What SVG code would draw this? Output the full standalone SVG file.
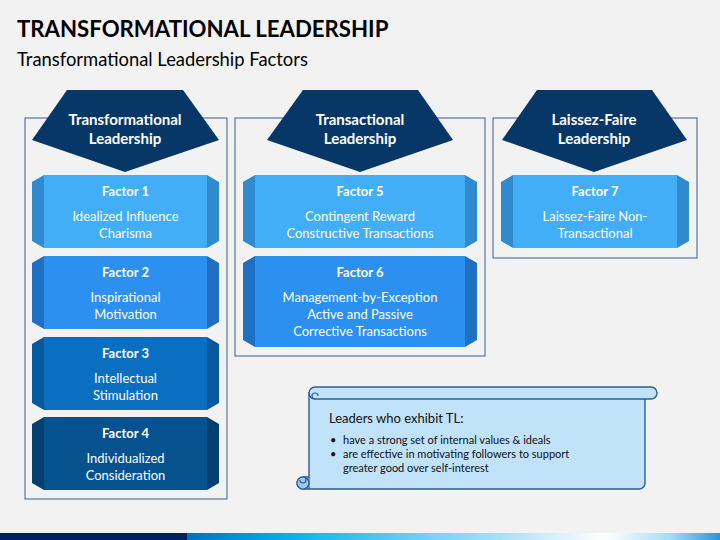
<svg xmlns="http://www.w3.org/2000/svg" width="720" height="540" viewBox="0 0 720 540">
  <defs>
    <linearGradient id="strip" x1="0" y1="0" x2="720" y2="0" gradientUnits="userSpaceOnUse">
      <stop offset="0.26" stop-color="#0070C0"/>
      <stop offset="0.33" stop-color="#0092D6"/>
      <stop offset="0.42" stop-color="#12B4EE"/>
      <stop offset="0.55" stop-color="#5ACBF2"/>
      <stop offset="0.72" stop-color="#B8E4F8"/>
      <stop offset="0.84" stop-color="#FFFFFF"/>
      <stop offset="0.93" stop-color="#A8DCF6"/>
      <stop offset="1" stop-color="#2596DC"/>
    </linearGradient>
    <style>
      .panel { fill: none; stroke: #5A7699; stroke-width: 1.2; }
      .head { fill: #063767; }
      .htxt { font-family: Lato, "Liberation Sans", sans-serif; font-weight: bold; font-size: 15px; fill: #FFFFFF; text-anchor: middle; }
      .ftitle { font-family: Lato, "Liberation Sans", sans-serif; font-weight: bold; font-size: 13px; fill: #FFFFFF; text-anchor: middle; }
      .ftxt { font-family: Lato, "Liberation Sans", sans-serif; font-size: 13px; fill: #FFFFFF; text-anchor: middle; }
      .c1 .face { fill: #42AEF8; } .c1 .side { fill: #2F8BCD; }
      .c2 .face { fill: #2B90F0; } .c2 .side { fill: #1F70C2; }
      .c3 .face { fill: #0A6FC1; } .c3 .side { fill: #07599D; }
      .c4 .face { fill: #05528F; } .c4 .side { fill: #033F70; }
      .scroll { fill: #C0E3FA; stroke: #2E5E90; stroke-width: 1.4; stroke-linejoin: round; }
      .stxt { font-family: Lato, "Liberation Sans", sans-serif; fill: #111111; }
    </style>
  </defs>

  <rect x="0" y="0" width="720" height="540" fill="#F2F2F2"/>

  <text x="17" y="37" font-family="Lato, 'Liberation Sans', sans-serif" font-weight="bold" font-size="22.2" fill="#000000">TRANSFORMATIONAL LEADERSHIP</text>
  <text x="17" y="66" font-family="Lato, 'Liberation Sans', sans-serif" font-size="18.4" fill="#000000">Transformational Leadership Factors</text>

  <g id="panels">
    <rect class="panel" x="25" y="118" width="202" height="381"/>
    <rect class="panel" x="235" y="118" width="250" height="238"/>
    <rect class="panel" x="493" y="118" width="204" height="140"/>
  </g>

  <g id="head-transformational">
    <polygon class="head" points="67,90 183,90 219,140 125,172 32,140"/>
    <text class="htxt" x="125" y="125">Transformational</text>
    <text class="htxt" x="125" y="144">Leadership</text>
  </g>
  <g id="head-transactional">
    <polygon class="head" points="303,90 418,90 453,140 360,172 267,140"/>
    <text class="htxt" x="360" y="125">Transactional</text>
    <text class="htxt" x="360" y="144">Leadership</text>
  </g>
  <g id="head-laissez">
    <polygon class="head" points="537,90 652,90 687,140 594,172 502,140"/>
    <text class="htxt" x="594" y="125">Laissez-Faire</text>
    <text class="htxt" x="594" y="144">Leadership</text>
  </g>

  <g id="factor1" class="c1">
    <polygon class="side" points="32,182 44,175 44,248 32,241"/>
    <rect class="face" x="44" y="175" width="163" height="73"/>
    <polygon class="side" points="207,175 219,182 219,241 207,248"/>
    <text class="ftitle" x="125.5" y="196">Factor 1</text>
    <text class="ftxt" x="125.5" y="221">Idealized Influence</text>
    <text class="ftxt" x="125.5" y="238">Charisma</text>
  </g>
  <g id="factor2" class="c2">
    <polygon class="side" points="32,263 44,256 44,329 32,322"/>
    <rect class="face" x="44" y="256" width="163" height="73"/>
    <polygon class="side" points="207,256 219,263 219,322 207,329"/>
    <text class="ftitle" x="125.5" y="277">Factor 2</text>
    <text class="ftxt" x="125.5" y="302">Inspirational</text>
    <text class="ftxt" x="125.5" y="319">Motivation</text>
  </g>
  <g id="factor3" class="c3">
    <polygon class="side" points="32,344 44,337 44,410 32,403"/>
    <rect class="face" x="44" y="337" width="163" height="73"/>
    <polygon class="side" points="207,337 219,344 219,403 207,410"/>
    <text class="ftitle" x="125.5" y="358">Factor 3</text>
    <text class="ftxt" x="125.5" y="383">Intellectual</text>
    <text class="ftxt" x="125.5" y="400">Stimulation</text>
  </g>
  <g id="factor4" class="c4">
    <polygon class="side" points="32,424 44,417 44,490 32,483"/>
    <rect class="face" x="44" y="417" width="163" height="73"/>
    <polygon class="side" points="207,417 219,424 219,483 207,490"/>
    <text class="ftitle" x="125.5" y="438">Factor 4</text>
    <text class="ftxt" x="125.5" y="463">Individualized</text>
    <text class="ftxt" x="125.5" y="480">Consideration</text>
  </g>
  <g id="factor5" class="c1">
    <polygon class="side" points="243,182 255,175 255,248 243,241"/>
    <rect class="face" x="255" y="175" width="210" height="73"/>
    <polygon class="side" points="465,175 477,182 477,241 465,248"/>
    <text class="ftitle" x="360" y="196">Factor 5</text>
    <text class="ftxt" x="360" y="221">Contingent Reward</text>
    <text class="ftxt" x="360" y="238">Constructive Transactions</text>
  </g>
  <g id="factor6" class="c2">
    <polygon class="side" points="243,263 255,256 255,347 243,340"/>
    <rect class="face" x="255" y="256" width="210" height="91"/>
    <polygon class="side" points="465,256 477,263 477,340 465,347"/>
    <text class="ftitle" x="360" y="277">Factor 6</text>
    <text class="ftxt" x="360" y="302">Management-by-Exception</text>
    <text class="ftxt" x="360" y="319">Active and Passive</text>
    <text class="ftxt" x="360" y="336">Corrective Transactions</text>
  </g>
  <g id="factor7" class="c1">
    <polygon class="side" points="501,182 513,175 513,248 501,241"/>
    <rect class="face" x="513" y="175" width="164" height="73"/>
    <polygon class="side" points="677,175 689,182 689,241 677,248"/>
    <text class="ftitle" x="595" y="196">Factor 7</text>
    <text class="ftxt" x="595" y="221">Laissez-Faire Non-</text>
    <text class="ftxt" x="595" y="238">Transactional</text>
  </g>

  <g id="scroll-note">
    <path class="scroll" d="M309,393 H645 V483 A6,6 0 0 1 639,489 H303 A6,6 0 0 1 297,483 A6,6 0 0 1 303,477 H309 Z"/>
    <path class="scroll" d="M315,387 H651 A6,6 0 0 1 651,399 H315 A6,6 0 0 1 315,387 Z"/>
    <path fill="none" stroke="#2E5E90" stroke-width="1.2" d="M315,399 A3,3 0 0 1 315,393 A3,3 0 0 1 318,396"/>
    <path fill="#9CCBEF" stroke="#2E5E90" stroke-width="1.2" d="M303,477 A6,6 0 0 1 303,489 A6,6 0 0 1 297,483 A6,6 0 0 1 303,477 Z"/>
    <path fill="none" stroke="#2E5E90" stroke-width="1.2" d="M303,477 A3,3 0 0 1 303,483 A3,3 0 0 1 300,480 M309,477 V489"/>
    <text class="stxt" x="329" y="423" font-size="13">Leaders who exhibit TL:</text>
    <text class="stxt" x="330" y="444" font-size="11">•</text>
    <text class="stxt" x="343" y="444" font-size="11">have a strong set of internal values &amp; ideals</text>
    <text class="stxt" x="330" y="458" font-size="11">•</text>
    <text class="stxt" x="343" y="458" font-size="11">are effective in motivating followers to support</text>
    <text class="stxt" x="343" y="472" font-size="11">greater good over self-interest</text>
  </g>

  <g id="bottom-strip">
    <rect x="0" y="533" width="720" height="7" fill="url(#strip)"/>
    <rect x="0" y="533" width="187" height="7" fill="#002060"/>
  </g>
</svg>
